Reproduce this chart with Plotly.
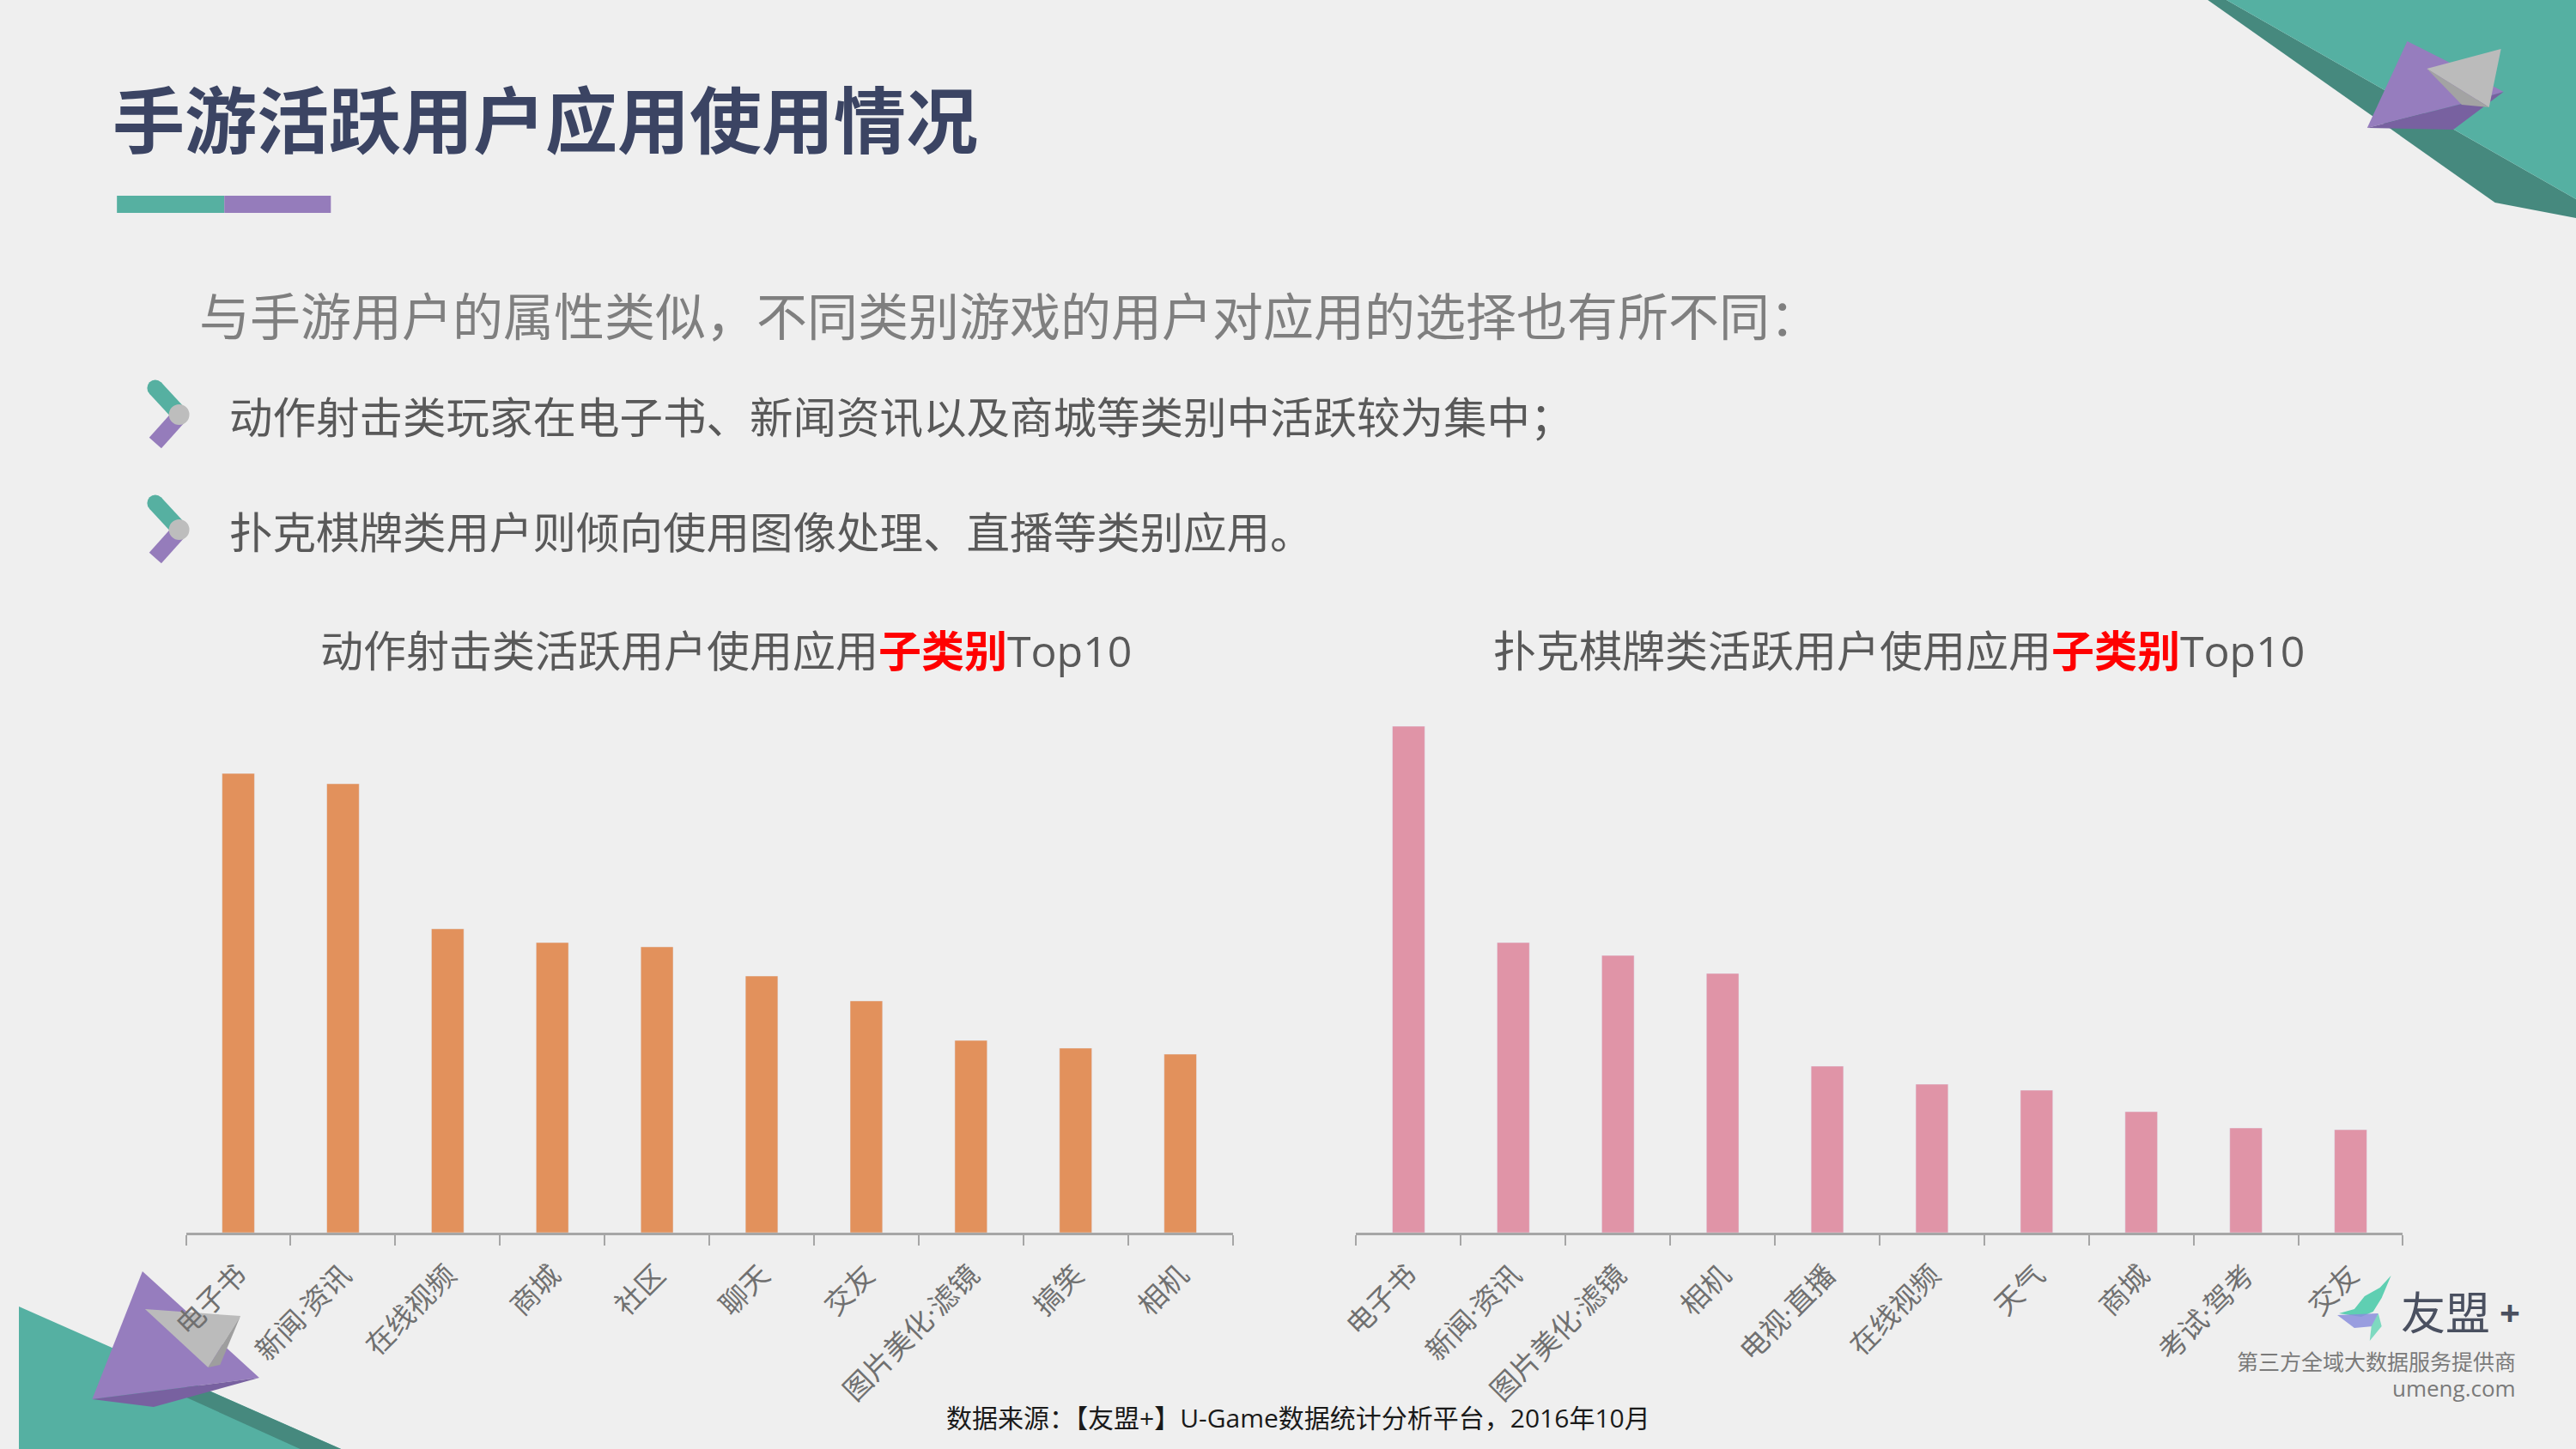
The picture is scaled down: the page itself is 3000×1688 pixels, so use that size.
import plotly.graph_objects as go

W, H = 3000, 1688
BG = '#EFEFEF'
FONT = 'Open Sans, Noto Sans CJK SC'

# data (relative heights)
shoot_cats = ['电子书', '新闻·资讯', '在线视频', '商城', '社区', '聊天', '交友', '图片美化·滤镜', '搞笑', '相机']
shoot_vals = [53.5, 52.3, 35.4, 33.8, 33.3, 29.9, 27.0, 22.4, 21.5, 20.8]

card_cats = ['电子书', '新闻·资讯', '图片美化·滤镜', '相机', '电视·直播', '在线视频', '天气', '商城', '考试·驾考', '交友']
card_vals = [59.0, 33.8, 32.3, 30.2, 19.4, 17.3, 16.6, 14.1, 12.2, 12.0]

titles = ['动作射击类活跃用户使用应用', '扑克棋牌类活跃用户使用应用']


def X(px):
    return px / W


def Y(py):
    return 1 - py / H


def poly(pts):
    return 'M ' + ' L '.join(f'{X(a):.5f},{Y(b):.5f}' for a, b in pts) + ' Z'


fig = go.Figure()

fig.add_trace(go.Bar(x=shoot_cats, y=shoot_vals, marker_color='#E2915C',
                     xaxis='x', yaxis='y', hoverinfo='x+y'))
fig.add_trace(go.Bar(x=card_cats, y=card_vals, marker_color='#E094A7',
                     xaxis='x2', yaxis='y2', hoverinfo='x+y'))

axis_common = dict(
    type='category', showline=True, linecolor='#A6A6A6', linewidth=3,
    ticks='outside', tickson='boundaries', ticklen=12, tickcolor='#A6A6A6',
    tickwidth=2, tickangle=-45, showgrid=False, zeroline=False,
    ticklabelstandoff=14,
    tickfont=dict(family=FONT, size=33, color='#707070'), fixedrange=True,
)
y_bottom, y_top = 1436, 800
yaxis_common = dict(
    range=[0, (y_bottom - y_top) / 10], domain=[Y(y_bottom), Y(y_top)],
    visible=False, fixedrange=True,
)

shapes = []


def add_poly(pts, color, opacity=1):
    # decorations sit under the axes and tick labels
    shapes.append(dict(type='path', xref='paper', yref='paper', path=poly(pts),
                       fillcolor=color, line=dict(width=0), layer='below', opacity=opacity))


def add_dot(cx, cy, r, color):
    shapes.append(dict(type='circle', xref='paper', yref='paper',
                       x0=X(cx - r), x1=X(cx + r), y0=Y(cy + r), y1=Y(cy - r),
                       fillcolor=color, line=dict(width=0)))


# top-right decoration
add_poly([(2568, 0), (2590, 0), (3000, 232), (3000, 254), (2905, 236)], '#46897E')
add_poly([(2590, 0), (3000, 0), (3000, 232)], '#55B0A2')
add_poly([(2802, 48), (2850, 72), (2915, 107), (2866, 121), (2755, 149)], '#967DBE')
add_poly([(2755, 149), (2866, 121), (2915, 107), (2856, 151)], '#7861A0')
add_poly([(2825, 80), (2912, 57), (2898, 125)], '#BBBBBB')
add_poly([(2825, 80), (2898, 125), (2866, 122)], '#A3A3A3')

# bottom-left decoration
add_poly([(0, 1522), (378, 1688), (0, 1688)], '#55B0A2')
add_poly([(200, 1610), (378, 1688), (330, 1688), (190, 1625)], '#46897E')
add_poly([(145, 1481), (282, 1605), (86, 1630)], '#967DBE')
add_poly([(86, 1630), (282, 1605), (158, 1639)], '#7861A0')
add_poly([(148, 1525), (260, 1533), (222, 1593)], '#BBBBBB')
add_poly([(260, 1533), (236, 1590), (222, 1593)], '#9E9E9E')

# title underline
for x0, x1, c in ((115, 241, '#56B0A1'), (241, 366, '#957CBB')):
    shapes.append(dict(type='rect', xref='paper', yref='paper', x0=X(x0), x1=X(x1),
                       y0=Y(248), y1=Y(228), fillcolor=c, line=dict(width=0)))

# bullet chevrons (rounded strokes)
for dy in (0, 134):
    for (xa, ya), (xb, yb), c in (((160, 452), (188, 482), '#56B0A1'),
                                  ((188, 485), (160, 516), '#957CBB')):
        shapes.append(dict(type='line', xref='paper', yref='paper',
                           x0=X(xa), y0=Y(ya + dy), x1=X(xb), y1=Y(yb + dy),
                           line=dict(color=c, width=19)))
        add_dot(xa, ya + dy, 9.5, c)
    add_dot(188, 483 + dy, 12, '#BDBDBD')

# logo leaf
add_poly([(2783, 1486), (2770, 1500), (2752, 1510), (2740, 1525), (2722, 1530),
          (2748, 1534), (2762, 1528), (2772, 1512)], '#5FCFB2')
add_poly([(2720, 1532), (2768, 1530), (2762, 1545), (2740, 1547)], '#8A8EDC', opacity=0.85)
add_poly([(2768, 1530), (2772, 1545), (2758, 1562), (2760, 1545)], '#7ED9C0')

annotations = []


def text(x, y, s, size, color, anchor='left', bold=False):
    annotations.append(dict(
        x=X(x), y=Y(y), xref='paper', yref='paper', text=f'<b>{s}</b>' if bold else s,
        showarrow=False, xanchor=anchor, yanchor='middle',
        font=dict(family=FONT, size=size, color=color)))


text(108, 139, '手游活跃用户应用使用情况', 84, '#3B4463', bold=True)
text(210, 368, '与手游用户的属性类似，不同类别游戏的用户对应用的选择也有所不同：', 59, '#7F7F7F')
text(245, 486, '动作射击类玩家在电子书、新闻资讯以及商城等类别中活跃较为集中；', 50.5, '#595959')
text(245, 620, '扑克棋牌类用户则倾向使用图像处理、直播等类别应用。', 50.5, '#595959')

for cx, t in zip((830, 2206), titles):
    text(cx, 758, t + "<span style='color:#FF0000'><b>子类别</b></span>Top10", 50, '#595959',
         anchor='center')

text(1501, 1651, '数据来源：【友盟+】U-Game数据统计分析平台，2016年10月', 30, '#1A1A1A', anchor='center')

text(2792, 1528, '友盟', 52, '#4A5060')
text(2908, 1528, '+', 42, '#4A5060', bold=True)
text(2932, 1586, '第三方全域大数据服务提供商', 25, '#7A7A7A', anchor='right')
text(2932, 1617, 'umeng.com', 26, '#7A7A7A', anchor='right')

fig.update_layout(
    width=W, height=H,
    margin=dict(l=0, r=0, t=0, b=0),
    paper_bgcolor=BG, plot_bgcolor=BG,
    showlegend=False,
    bargap=0.69,
    xaxis=dict(domain=[X(196), X(1424)], anchor='y', **axis_common),
    yaxis=dict(anchor='x', **yaxis_common),
    xaxis2=dict(domain=[X(1569), X(2797)], anchor='y2', **axis_common),
    yaxis2=dict(anchor='x2', **yaxis_common),
    shapes=shapes,
    annotations=annotations,
)

page_css = ("document.documentElement.style.margin='0px';"
            "document.body.style.margin='0px';"
            "document.body.style.overflow='hidden';"
            "document.body.style.background='#EFEFEF';"
            "var d=document.getElementById('{plot_id}');"
            "d.style.position='absolute';d.style.left='0px';d.style.top='0px';")
fig.write_html('out.html', config={'displayModeBar': False}, post_script=page_css)
